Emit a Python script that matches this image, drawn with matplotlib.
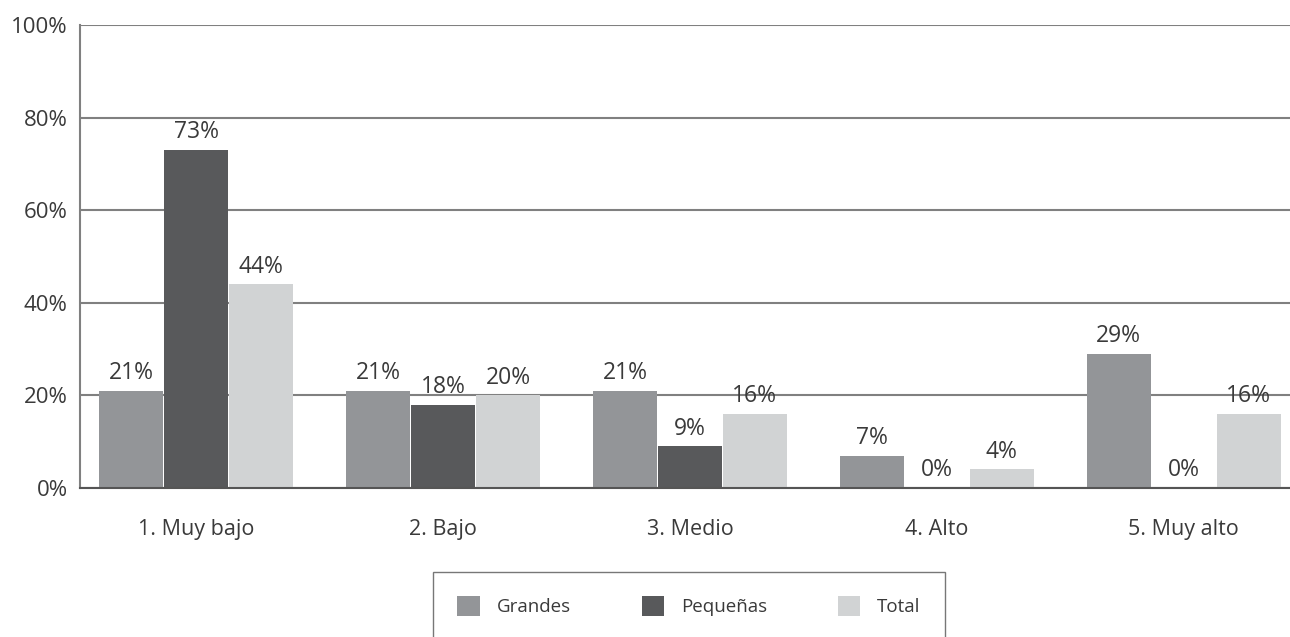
import numpy as np
import matplotlib.pyplot as plt

plt.rcParams['font.family'] = ['Open Sans', 'DejaVu Sans']

categories = ['1. Muy bajo', '2. Bajo', '3. Medio', '4. Alto', '5. Muy alto']
series_names = ['Grandes', 'Pequeñas', 'Total']
grandes = [21, 21, 21, 7, 29]
pequenas = [73, 18, 9, 0, 0]
total = [44, 20, 16, 4, 16]
y_ticks = [0, 20, 40, 60, 80, 100]

colors = ['#939598', '#58595b', '#d1d3d4']
text_color = '#3a3a3a'

fig = plt.figure(figsize=(12.9, 6.37), dpi=100)
ax = fig.add_axes([80 / 1290, 1 - 488 / 637, 1210 / 1290, 463 / 637])

x = np.arange(len(categories))
step = 0.263
for i, (name, vals, col) in enumerate(zip(series_names, [grandes, pequenas, total], colors)):
    pos = x + (i - 1) * step
    ax.bar(pos, vals, width=step - 0.004, color=col, label=name, zorder=2)
    for p, v in zip(pos, vals):
        ax.annotate(f'{v}%', (p, v), xytext=(0, 4), textcoords='offset points',
                    ha='center', va='bottom', fontsize=16.5, color=text_color, zorder=3)

ax.set_xlim(-0.47, 4.43)
ax.set_ylim(0, 100)
ax.set_yticks(y_ticks)
ax.set_yticklabels([f'{t}%' for t in y_ticks])
ax.set_xticks(x)
ax.set_xticklabels(categories)
ax.tick_params(axis='x', length=0, labelsize=15.5, colors=text_color, pad=22)
ax.tick_params(axis='y', length=0, labelsize=16, colors=text_color, pad=9)

ax.yaxis.grid(True, color='#808080', linewidth=1.5, zorder=1)
ax.set_axisbelow(True)
for s in ['top', 'right']:
    ax.spines[s].set_visible(False)
ax.spines['left'].set_color('#808080')
ax.spines['left'].set_linewidth(1.5)
ax.spines['bottom'].set_color('#555555')
ax.spines['bottom'].set_linewidth(1.5)

leg = fig.legend(loc='upper left', bbox_to_anchor=(433 / 1290, 1 - 572 / 637, 512 / 1290, 0.0),
                 mode='expand', ncol=3, frameon=True, fancybox=False, fontsize=13.5,
                 handlelength=1.2, handleheight=1.2, handletextpad=0.9,
                 borderpad=1.3, borderaxespad=0)
leg.get_frame().set_edgecolor('#555555')
leg.get_frame().set_linewidth(1.0)
for t in leg.get_texts():
    t.set_color(text_color)

fig.savefig('out.png', dpi=100)
